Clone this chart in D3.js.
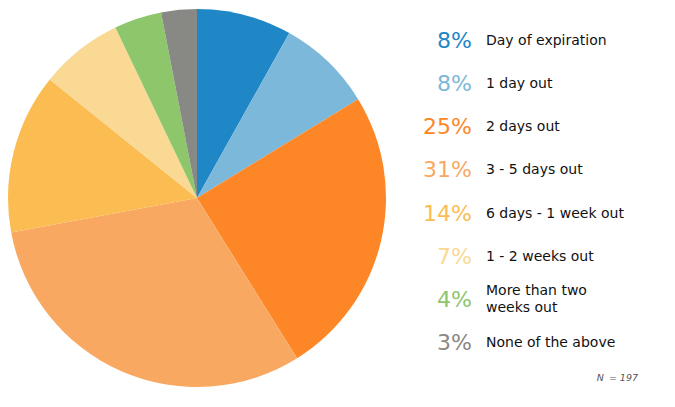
<!DOCTYPE html>
<html><head><meta charset="utf-8">
<script src="https://cdn.jsdelivr.net/npm/d3@7"></script>
<style>body{margin:0;background:#fff}svg{display:block}</style>
</head><body>
<script>
const categories = ["Day of expiration","1 day out","2 days out","3 - 5 days out","6 days - 1 week out","1 - 2 weeks out","More than two weeks out","None of the above"];
const labelLines = [["Day of expiration"],["1 day out"],["2 days out"],["3 - 5 days out"],["6 days - 1 week out"],["1 - 2 weeks out"],["More than two","weeks out"],["None of the above"]];
const counts = [16,16,49,61,27,14,8,6];
const colors = ["#2087c7","#7bb8d9","#fd8726","#f9a862","#fbbd52","#f9d993","#8dc66b","#888884"];
const total = 197;

const W=675,H=407;
const svg=d3.select("body").append("svg").attr("width",W).attr("height",H);
const cx=197, cy=198, r=189;
const pie=d3.pie().sort(null).value(d=>d)(counts);
const arc=d3.arc().innerRadius(0).outerRadius(r);
svg.append("g").attr("transform",`translate(${cx},${cy})`)
  .selectAll("path").data(pie).join("path")
  .attr("d",arc).attr("fill",(d,i)=>colors[i]);

const y=d3.scalePoint().domain(d3.range(categories.length)).range([40,342]);
const lg=svg.append("g").style("font-family","Verdana, 'DejaVu Sans', sans-serif");
categories.forEach((c,i)=>{
  const yy=y(i);
  lg.append("text").attr("x",472).attr("y",yy+8).attr("text-anchor","end")
    .attr("font-size",22).attr("fill",colors[i])
    .text(Math.round(counts[i]/total*100)+"%");
  const lines=labelLines[i];
  const t=lg.append("text").attr("x",486).attr("font-size",14).attr("fill","#111");
  lines.forEach((l,j)=>{
    t.append("tspan").attr("x",486).attr("y",yy+5+(j-(lines.length-1)/2)*17).text(l);
  });
});
const nt=svg.append("text").attr("x",638).attr("y",381).attr("text-anchor","end")
  .attr("font-size",9.5).attr("font-style","italic").attr("fill","#555")
  .style("font-family","Verdana, 'DejaVu Sans', sans-serif");
nt.append("tspan").text("N");
nt.append("tspan").attr("dx",5).text("= "+total);
</script>
</body></html>
